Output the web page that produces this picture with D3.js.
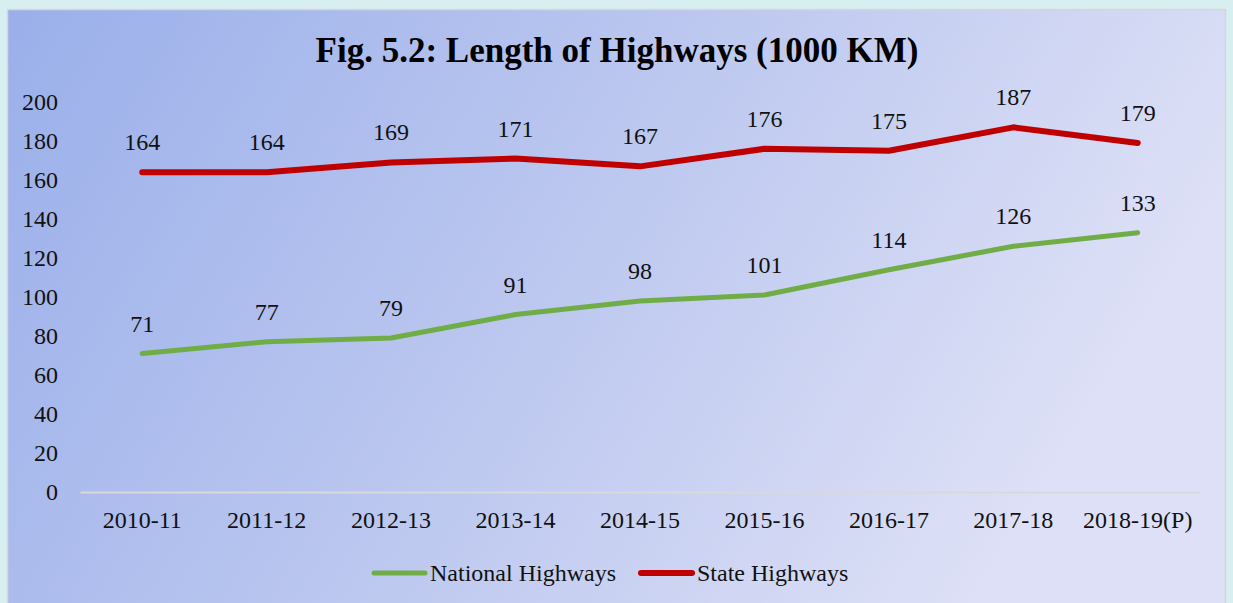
<!DOCTYPE html>
<html>
<head>
<meta charset="utf-8">
<script src="https://cdn.jsdelivr.net/npm/d3@7/dist/d3.min.js"></script>
<style>
  body { margin: 0; background: #d8eff2; }
  svg { display: block; font-family: "Liberation Serif", "Times New Roman", serif; }
</style>
</head>
<body>
<div id="chart"></div>
<script>
// data
const years = ['2010-11', '2011-12', '2012-13', '2013-14', '2014-15', '2015-16', '2016-17', '2017-18', '2018-19(P)'];
const nationalHighways = [71, 77, 79, 91, 98, 101, 114, 126, 133];
const stateHighways = [164, 164, 169, 171, 167, 176, 175, 187, 179];
const yTicks = [0, 20, 40, 60, 80, 100, 120, 140, 160, 180, 200];

const width = 1233, height = 603;
const fs = 24;
const svg = d3.select('#chart').append('svg')
  .attr('width', width)
  .attr('height', height);

const defs = svg.append('defs');
const grad = defs.append('linearGradient')
  .attr('id', 'bg')
  .attr('x1', '0%').attr('y1', '0%')
  .attr('x2', '100%').attr('y2', '30%');
grad.append('stop').attr('offset', '0%').attr('stop-color', '#9aafea');
grad.append('stop').attr('offset', '50%').attr('stop-color', '#bac6ef');
grad.append('stop').attr('offset', '100%').attr('stop-color', '#dde0f6');

// panel
svg.append('rect')
  .attr('x', 7.5).attr('y', 9.5)
  .attr('width', 1218).attr('height', 600)
  .attr('fill', 'url(#bg)')
  .attr('stroke', '#d6d6d6')
  .attr('stroke-width', 1.5);

svg.append('text')
  .attr('x', 617).attr('y', 62)
  .attr('text-anchor', 'middle')
  .attr('font-size', 35)
  .attr('font-weight', 'bold')
  .text('Fig. 5.2: Length of Highways (1000 KM)');

const x = d3.scaleBand().domain(years).range([80, 1200]);
const y = d3.scaleLinear().domain([0, 200]).range([492, 102]);

// y axis labels
const yAxis = svg.append('g')
  .attr('transform', 'translate(58,0)')
  .call(d3.axisLeft(y).tickValues(yTicks).tickSize(0).tickPadding(0));
yAxis.select('.domain').remove();
yAxis.selectAll('text')
  .attr('font-family', '"Liberation Serif", serif')
  .attr('font-size', fs)
  .attr('fill', '#111');

// x axis
const xAxis = svg.append('g')
  .attr('transform', 'translate(0,492)')
  .call(d3.axisBottom(x).tickSize(0).tickPadding(19));
xAxis.select('.domain').attr('stroke', '#d9d9d9').attr('stroke-width', 2);
xAxis.selectAll('text')
  .attr('font-family', '"Liberation Serif", serif')
  .attr('font-size', fs)
  .attr('fill', '#111');

const cx = d => x(d) + x.bandwidth() / 2;

const series = [
  { name: 'National Highways', values: nationalHighways, color: '#70ad47', w: 5 },
  { name: 'State Highways', values: stateHighways, color: '#c00000', w: 6 }
];

const line = d3.line()
  .x((d, i) => cx(years[i]))
  .y(d => y(d));

series.forEach(s => {
  svg.append('path')
    .datum(s.values)
    .attr('d', line)
    .attr('fill', 'none')
    .attr('stroke', s.color)
    .attr('stroke-width', s.w)
    .attr('stroke-linecap', 'round')
    .attr('stroke-linejoin', 'round');

  svg.append('g').selectAll('text')
    .data(s.values)
    .enter().append('text')
    .attr('x', (d, i) => cx(years[i]))
    .attr('y', d => y(d) - 22)
    .attr('text-anchor', 'middle')
    .attr('font-size', fs)
    .attr('fill', '#111')
    .text(d => d);
});

// legend
const legendX = [374, 641];
series.forEach((s, i) => {
  const g = svg.append('g').attr('transform', `translate(${legendX[i]},573)`);
  g.append('line')
    .attr('x1', 0).attr('x2', 51)
    .attr('stroke', s.color)
    .attr('stroke-width', s.w)
    .attr('stroke-linecap', 'round');
  g.append('text')
    .attr('x', 56).attr('y', 8)
    .attr('font-size', fs)
    .attr('fill', '#111')
    .text(s.name);
});
</script>
</body>
</html>
